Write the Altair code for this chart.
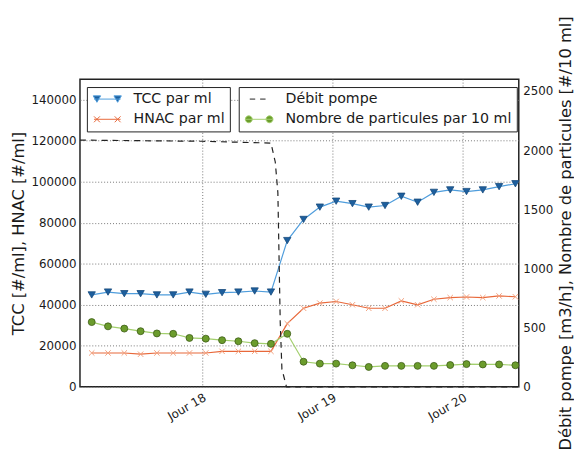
import altair as alt
import pandas as pd

# ---- data ----
t_obs = [17.154, 17.279, 17.404, 17.529, 17.654, 17.779, 17.904, 18.029, 18.154,
         18.279, 18.404, 18.529, 18.654, 18.779, 18.904, 19.029, 19.154, 19.279,
         19.404, 19.529, 19.654, 19.779, 19.904, 20.029, 20.154, 20.279, 20.404]
tcc = [44800, 46200, 45400, 45400, 44800, 44800, 46200, 45100, 45900, 46200, 46700, 46200,
       71300, 81600, 87600, 90500, 89300, 87600, 88400, 92900, 90000, 94800, 96000, 95200,
       96000, 97600, 99000]
hnac = [16500, 16500, 16500, 15900, 16500, 16500, 16500, 16500, 17300, 17300, 17300, 17300,
        30800, 38300, 40800, 41600, 40000, 38300, 38300, 41900, 40000, 42700, 43500, 43800,
        43500, 44300, 43900]
particules = [547, 511, 492, 470, 451, 448, 413, 407, 394, 385, 369, 363,
              448, 212, 196, 196, 182, 168, 177, 177, 177, 177, 184, 192, 189, 189, 182]
t_debit = [17.064, 18.0, 18.529, 18.562, 18.582, 18.600, 18.613, 18.648, 20.430]
debit = [2085, 2075, 2060, 1900, 1640, 550, 150, 0, 0]

left_names = ["TCC par ml", "HNAC par ml"]
right_names = ["Débit pompe", "Nombre de particules par 10 ml"]
x_ticks = [18, 19, 20]
left_ticks = [0, 20000, 40000, 60000, 80000, 100000, 120000, 140000]
right_ticks = [0, 500, 1000, 1500, 2000, 2500]

# ---- styling ----
FONT = "DejaVu Sans"
TXT = "#1a1a1a"
c_tcc_line, c_tcc_mark = "#4f9ddc", "#1d5f9e"
c_hnac_line, c_hnac_mark = "#e8683a", "#f2a07c"
c_part_line, c_part_mark = "#a3cf6e", "#6b9c2c"
c_debit = "#222222"

df_tcc = pd.DataFrame({"t": t_obs, "v": tcc, "serie": left_names[0]})
df_hnac = pd.DataFrame({"t": t_obs, "v": hnac, "serie": left_names[1]})
df_left = pd.concat([df_tcc, df_hnac])
df_deb = pd.DataFrame({"t": t_debit, "v": debit, "serie": right_names[0]})
df_part = pd.DataFrame({"t": t_obs, "v": particules, "serie": right_names[1]})
df_right = pd.concat([df_deb, df_part])

x_enc = alt.X(
    "t:Q",
    scale=alt.Scale(domain=[min(t_debit), max(t_debit)], nice=False, zero=False),
    axis=alt.Axis(values=x_ticks, labelExpr="'Jour ' + datum.value", labelAngle=330,
                  labelAlign="right", labelBaseline="top", labelPadding=5, tickSize=0,
                  title=None, grid=True, gridDash=[1, 2], gridColor="#777",
                  domain=False, labelFontSize=12),
)
y_left = alt.Y(
    "v:Q",
    scale=alt.Scale(domain=[0, 150000], nice=False),
    axis=alt.Axis(values=left_ticks, format="d", title="TCC [#/ml], HNAC [#/ml]",
                  grid=True, gridDash=[1, 2], gridColor="#777", domain=False,
                  tickSize=0, labelPadding=4, titlePadding=4, labelFontSize=12,
                  titleFontSize=16.5, titleFontWeight="normal"),
)
y_right = alt.Y(
    "v:Q",
    scale=alt.Scale(domain=[0, 2600], nice=False),
    axis=alt.Axis(values=right_ticks, format="d", orient="right",
                  title="Débit pompe [m3/h], Nombre de particules [#/10 ml]",
                  grid=False, domain=False, tickSize=0, labelPadding=4,
                  titlePadding=5, titleAngle=270, titleBaseline="top",
                  labelFontSize=12, titleFontSize=16.5, titleFontWeight="normal"),
)

L = "M-1,0H4.4"
p_tcc = L + " M-1.15,-0.65L0.35,-0.65L-0.4,0.65Z M3.05,-0.65L4.55,-0.65L3.8,0.65Z"
p_hnac = L + " M-1,-0.6L0.2,0.6M-1,0.6L0.2,-0.6 M3.2,-0.6L4.4,0.6M3.2,0.6L4.4,-0.6"
p_deb = "M-0.2,0H0.9M1.9,0H3.0"
p_part = (L + " M-1.1,0a0.7,0.7 0 1,0 1.4,0a0.7,0.7 0 1,0 -1.4,0Z"
          " M3.1,0a0.7,0.7 0 1,0 1.4,0a0.7,0.7 0 1,0 -1.4,0Z")


def make_legend(x, y):
    return alt.Legend(orient="none", legendX=x, legendY=y, title=None,
                      strokeColor="#222", fillColor="white", padding=5,
                      symbolSize=100, symbolOpacity=1, symbolStrokeWidth=1,
                      labelOffset=28, labelFontSize=14.4, labelColor=TXT,
                      rowPadding=5.5, labelLimit=400, cornerRadius=0)


leg_l = make_legend(7, 8)
leg_r = make_legend(161, 8)

legend_left = alt.Chart(df_left).mark_point(opacity=0, filled=True).encode(
    x=x_enc, y=y_left,
    fill=alt.Fill("serie:N", scale=alt.Scale(domain=left_names, range=[c_tcc_mark, c_hnac_mark]), legend=leg_l),
    stroke=alt.Stroke("serie:N", scale=alt.Scale(domain=left_names, range=[c_tcc_line, c_hnac_line]), legend=leg_l),
    shape=alt.Shape("serie:N", scale=alt.Scale(domain=left_names, range=[p_tcc, p_hnac]), legend=leg_l),
)
legend_right = alt.Chart(df_right).mark_point(opacity=0, filled=True).encode(
    x=x_enc, y=y_right,
    fill=alt.Fill("serie:N", scale=alt.Scale(domain=right_names, range=[c_debit, c_part_mark]), legend=leg_r),
    stroke=alt.Stroke("serie:N", scale=alt.Scale(domain=right_names, range=[c_debit, c_part_line]), legend=leg_r),
    shape=alt.Shape("serie:N", scale=alt.Scale(domain=right_names, range=[p_deb, p_part]), legend=leg_r),
)

tcc_line = alt.Chart(df_tcc).mark_line(color=c_tcc_line, strokeWidth=1.2).encode(x=x_enc, y=y_left)
tcc_pts = alt.Chart(df_tcc).mark_point(shape="triangle-down", filled=True, fill=c_tcc_mark,
                                       stroke="#174a7c", strokeWidth=0.8, size=55,
                                       opacity=1).encode(x=x_enc, y=y_left)
hnac_line = alt.Chart(df_hnac).mark_line(color=c_hnac_line, strokeWidth=1.2).encode(x=x_enc, y=y_left)
hnac_pts = alt.Chart(df_hnac).mark_point(shape="M-1,-1L1,1M-1,1L1,-1", filled=False,
                                        stroke=c_hnac_mark, strokeWidth=1, size=30,
                                        opacity=1).encode(x=x_enc, y=y_left)

deb_line = alt.Chart(df_deb).mark_line(color=c_debit, strokeWidth=1.2,
                                       strokeDash=[6, 5]).encode(x=x_enc, y=y_right)
part_line = alt.Chart(df_part).mark_line(color=c_part_line, strokeWidth=1.2).encode(x=x_enc, y=y_right)
part_pts = alt.Chart(df_part).mark_point(shape="circle", filled=True, fill=c_part_mark,
                                         stroke="#3d5c17", strokeWidth=0.8, size=50,
                                         opacity=1).encode(x=x_enc, y=y_right)

left = alt.layer(tcc_line, tcc_pts, hnac_line, hnac_pts, legend_left)
right = alt.layer(deb_line, part_line, part_pts, legend_right)

chart = alt.layer(left, right).resolve_scale(
    y="independent", fill="independent", stroke="independent", shape="independent"
).properties(
    width=445, height=312,
    autosize=alt.AutoSizeParams(type="none"),
    padding={"left": 73, "top": 69, "right": 56, "bottom": 67},
).configure(
    font=FONT
).configure_view(
    stroke="#222", strokeWidth=1.5
).configure_axis(
    labelColor=TXT, titleColor=TXT, labelFont=FONT, titleFont=FONT
).configure_legend(
    labelFont=FONT
)

chart.save("out.html", embed_options={"renderer": "svg", "actions": False})
